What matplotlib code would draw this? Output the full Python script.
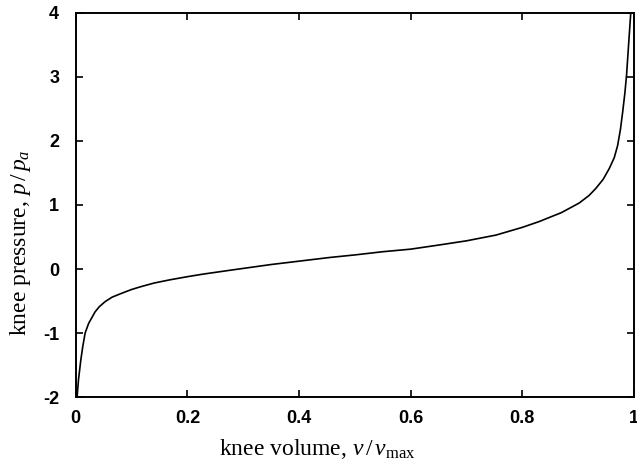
import numpy as np
import matplotlib.pyplot as plt

# knee volume v/vmax and knee pressure p/pa
volume = [0.0023, 0.0048, 0.009, 0.0125, 0.0167, 0.023, 0.0345, 0.042,
          0.0525, 0.065, 0.082, 0.1, 0.115, 0.14, 0.168, 0.2, 0.228,
          0.276, 0.35, 0.455, 0.5, 0.55, 0.6, 0.651, 0.7, 0.753, 0.8,
          0.83, 0.87, 0.902, 0.92, 0.932, 0.945, 0.956, 0.965, 0.971,
          0.976, 0.98, 0.984, 0.987, 0.991, 0.9945]
pressure = [-2.0, -1.73, -1.42, -1.21, -1.0, -0.85, -0.67, -0.59,
            -0.51, -0.44, -0.38, -0.32, -0.28, -0.22, -0.17, -0.12, -0.08,
            -0.02, 0.07, 0.18, 0.22, 0.27, 0.31, 0.375, 0.44, 0.53, 0.65,
            0.74, 0.88, 1.03, 1.15, 1.26, 1.40, 1.57, 1.74, 1.93,
            2.18, 2.45, 2.75, 3.03, 3.55, 4.0]

xticks = [0, 0.2, 0.4, 0.6, 0.8, 1]
xticklabels = ["0", "0.2", "0.4", "0.6", "0.8", "1"]
yticks = [-2, -1, 0, 1, 2, 3, 4]

plt.rcParams['axes.unicode_minus'] = False
plt.rcParams['mathtext.fontset'] = 'custom'
plt.rcParams['mathtext.rm'] = 'Liberation Serif'
plt.rcParams['mathtext.it'] = 'Liberation Serif:italic'

fig = plt.figure(figsize=(6.37, 4.63), dpi=100)
ax = fig.add_axes([0.119, 0.1425, 0.876, 0.8295])

ax.plot(volume, pressure, color='black', lw=1.2)

ax.set_xlim(0, 1)
ax.set_ylim(-2, 4)
ax.set_xticks(xticks)
ax.set_xticklabels(xticklabels)
ax.set_yticks(yticks)
ax.tick_params(direction='in', top=True, right=True, length=5, width=1.2)
ax.tick_params(axis='x', pad=9)
ax.tick_params(axis='y', pad=12)
for lab in ax.get_xticklabels() + ax.get_yticklabels():
    lab.set_family('Liberation Sans')
    lab.set_fontweight('bold')
    lab.set_fontsize(13)
for s in ax.spines.values():
    s.set_linewidth(1.4)

ax.set_xlabel(r"knee volume, $v\,/\,v_{\mathrm{max}}$", family='Liberation Serif', fontsize=17)
ax.set_ylabel(r"knee pressure, $p\,/\,p_a$", family='Liberation Serif', fontsize=17)
ax.xaxis.label.set_va('center')
ax.yaxis.label.set_va('center')
ax.xaxis.set_label_coords(0.432, -0.135)
ax.yaxis.set_label_coords(-0.100, 0.401)

fig.savefig("out.png", dpi=100)
